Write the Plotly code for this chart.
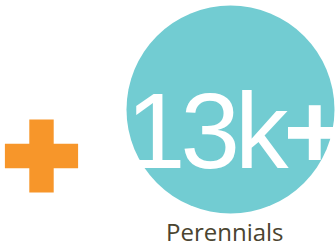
import plotly.graph_objects as go

# Data
categories = ["Perennials"]
values_label = ["13k", "+"]
circle_x = [230.5]
circle_y = [109.5]
circle_size = 208
plus_x = [41.5]
plus_y = [156]

TEAL = "#72CCD2"
ORANGE = "#F7962A"
BROWN = "#4A4430"

fig = go.Figure()
fig.add_trace(go.Scatter(
    x=circle_x, y=circle_y, mode="markers",
    marker=dict(size=circle_size, color=TEAL, opacity=1, line=dict(width=0)),
    hoverinfo="skip", showlegend=False, cliponaxis=False,
))
fig.add_trace(go.Scatter(
    x=plus_x, y=plus_y, mode="markers",
    marker=dict(size=61, symbol="cross", color=ORANGE, opacity=1, line=dict(width=0)),
    hoverinfo="skip", showlegend=False, cliponaxis=False,
))

fig.add_annotation(
    x=234, y=131, xref="x", yref="y",
    text='<span style="letter-spacing:-5px">' + values_label[0] + '<b>' + values_label[1] + '</b></span>',
    showarrow=False,
    font=dict(family="Liberation Sans Narrow, Liberation Sans, Arial, sans-serif", size=107, color="white"),
    xanchor="center", yanchor="middle",
)
fig.add_annotation(
    x=225, y=231, xref="x", yref="y", text=categories[0], showarrow=False,
    font=dict(family="Open Sans, sans-serif", size=24, color=BROWN),
    xanchor="center", yanchor="middle",
)

fig.update_xaxes(range=[0, 335], visible=False, fixedrange=True)
fig.update_yaxes(range=[246, 0], visible=False, fixedrange=True)
fig.update_layout(
    width=335, height=246, margin=dict(l=0, r=0, t=0, b=0, pad=0, autoexpand=False),
    paper_bgcolor="white", plot_bgcolor="white", hovermode=False,
)
fig.write_html("out.html", config={"displayModeBar": False, "staticPlot": True},
               post_script="document.body.style.margin='0';")
